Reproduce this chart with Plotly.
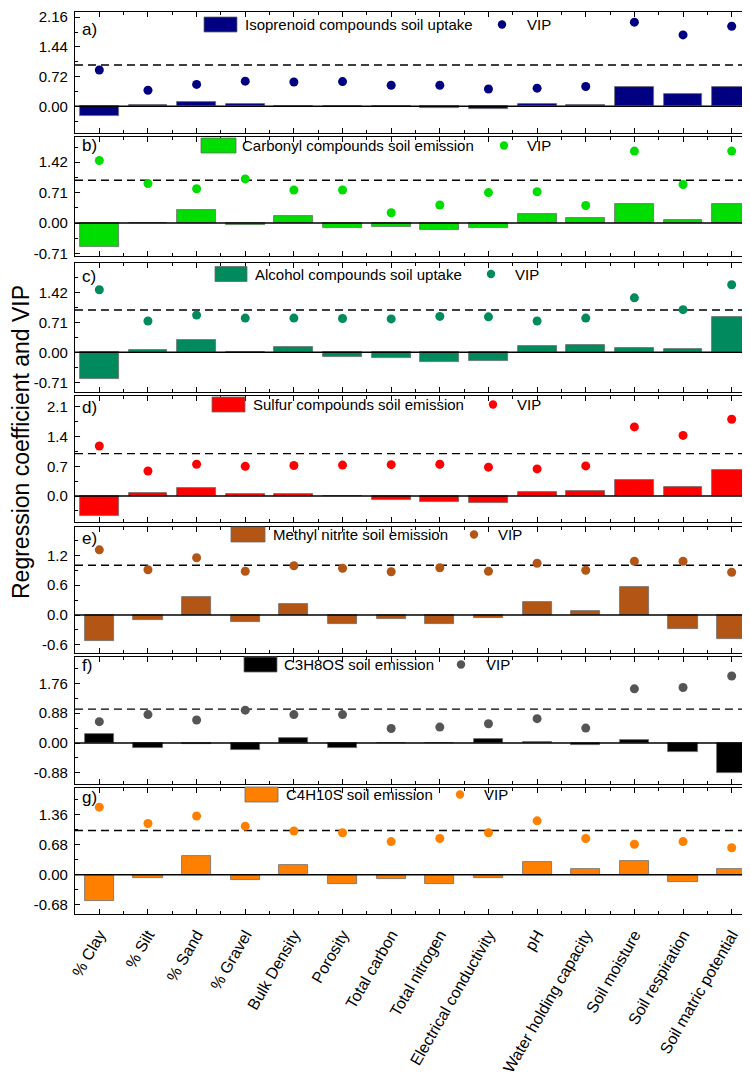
import plotly.graph_objects as go

categories = ["% Clay", "% Silt", "% Sand", "% Gravel", "Bulk Density", "Porosity",
              "Total carbon", "Total nitrogen", "Electrical conductivity", "pH",
              "Water holding capacity", "Soil moisture", "Soil respiration",
              "Soil matric potential"]

panel_labels = ["a)", "b)", "c)", "d)", "e)", "f)", "g)"]
series_names = ["Isoprenoid compounds soil uptake", "Carbonyl compounds soil emission",
                "Alcohol compounds soil uptake", "Sulfur compounds soil emission",
                "Methyl nitrite soil emission", "C3H8OS soil emission", "C4H10S soil emission"]

iso_coef = [-0.24, 0.02, 0.10, 0.05, 0.004, 0.004, 0.004, -0.04, -0.07, 0.055, 0.03, 0.47, 0.30, 0.46]
iso_vip = [0.88, 0.39, 0.53, 0.61, 0.59, 0.60, 0.51, 0.51, 0.42, 0.44, 0.48, 2.04, 1.73, 1.94]
carb_coef = [-0.55, -0.01, 0.31, -0.05, 0.16, -0.11, -0.09, -0.17, -0.11, 0.20, 0.11, 0.45, 0.07, 0.45]
carb_vip = [1.46, 0.92, 0.80, 1.03, 0.77, 0.77, 0.24, 0.42, 0.71, 0.73, 0.41, 1.68, 0.90, 1.68]
alc_coef = [-0.63, 0.06, 0.28, 0.01, 0.12, -0.10, -0.13, -0.22, -0.20, 0.14, 0.17, 0.09, 0.08, 0.84]
alc_vip = [1.48, 0.74, 0.88, 0.81, 0.81, 0.80, 0.79, 0.85, 0.84, 0.74, 0.81, 1.29, 1.01, 1.60]
sul_coef = [-0.48, 0.07, 0.19, 0.05, 0.05, -0.01, -0.09, -0.14, -0.16, 0.09, 0.12, 0.37, 0.21, 0.61]
sul_vip = [1.18, 0.59, 0.75, 0.70, 0.72, 0.73, 0.74, 0.75, 0.68, 0.64, 0.71, 1.63, 1.43, 1.81]
mn_coef = [-0.53, -0.11, 0.37, -0.14, 0.22, -0.19, -0.09, -0.19, -0.07, 0.26, 0.09, 0.57, -0.28, -0.49]
mn_vip = [1.31, 0.91, 1.15, 0.88, 0.99, 0.94, 0.87, 0.95, 0.88, 1.04, 0.90, 1.08, 1.08, 0.86]
c3_coef = [0.27, -0.15, -0.04, -0.22, 0.15, -0.15, 0.004, 0.004, 0.13, 0.04, -0.05, 0.10, -0.27, -0.89]
c3_vip = [0.63, 0.84, 0.68, 0.97, 0.84, 0.84, 0.43, 0.47, 0.57, 0.72, 0.44, 1.60, 1.64, 1.98]
c4_coef = [-0.60, -0.08, 0.42, -0.12, 0.23, -0.20, -0.10, -0.21, -0.08, 0.28, 0.12, 0.32, -0.17, 0.14]
c4_vip = [1.53, 1.16, 1.33, 1.10, 0.99, 0.95, 0.75, 0.82, 0.95, 1.22, 0.82, 0.69, 0.75, 0.61]

coef_series = [iso_coef, carb_coef, alc_coef, sul_coef, mn_coef, c3_coef, c4_coef]
vip_series = [iso_vip, carb_vip, alc_vip, sul_vip, mn_vip, c3_vip, c4_vip]

tick_steps = [0.72, 0.71, 0.71, 0.7, 0.6, 0.88, 0.68]
tick_decimals = [2, 2, 2, 1, 1, 2, 2]
vip_threshold = 1.0

# styling / layout
bar_colors = ["#000080", "#00DD00", "#008A5E", "#FF0000", "#B35514", "#000000", "#FF8000"]
dot_colors = ["#000080", "#00DD00", "#008A5E", "#FF0000", "#B35514", "#555555", "#FF8000"]
bar_widths = [0.8, 0.8, 0.8, 0.8, 0.6, 0.6, 0.6]
y_ranges = [(-0.647, 2.286), (-0.771, 2.009), (-0.94, 2.114), (-0.613, 2.359),
            (-0.764, 1.769), (-1.212, 2.542), (-0.891, 1.965)]
panel_px = [(4, 125), (129, 248), (255, 384), (388, 514), (519, 645), (649, 776), (780, 906)]
# legend: swatch x0, x1, y center, text x, dot x, VIP x  (pixels)
legend_px = [(196, 229, 16.5, 235, 494, 517), (193, 228, 137.5, 232, 496, 517),
             (207, 239, 266, 245, 483, 505), (204, 237, 396.5, 243, 485, 507),
             (223, 257, 526.5, 263, 466, 488), (236, 269, 656.5, 274, 453, 476),
             (237, 270, 786.5, 276, 452, 474)]
label_y_px = [21.5, 137, 268, 399, 530, 657, 789]

W, H = 750, 1074
ML, MR, MT, MB = 67, 2, 4, 168
PW, PH = W - ML - MR, H - MT - MB
FONT = "Arial, Liberation Sans, sans-serif"


def px_x(px):
    return (px - ML) / PW


def px_y(py):
    return 1 - (py - MT) / PH


fig = go.Figure()
xs = list(range(len(categories)))
shapes, annotations = [], []
layout = {}

for i in range(7):
    n = "" if i == 0 else str(i + 1)
    xa, ya = "x" + n, "y" + n
    fig.add_trace(go.Bar(x=xs, y=coef_series[i], width=bar_widths[i],
                         marker=dict(color=bar_colors[i], line=dict(color="#6b6b6b", width=0.8)),
                         xaxis=xa, yaxis=ya, showlegend=False, name=series_names[i]))
    fig.add_trace(go.Scatter(x=xs, y=vip_series[i], mode="markers",
                             marker=dict(color=dot_colors[i], size=9),
                             xaxis=xa, yaxis=ya, showlegend=False, name="VIP"))
    top, bot = panel_px[i]
    step = tick_steps[i]
    lo, hi = y_ranges[i]
    tv = [k * step for k in range(-3, 5) if lo <= k * step <= hi]
    tt = [("%." + str(tick_decimals[i]) + "f") % v for v in tv]
    tt = ["0." + "0" * tick_decimals[i] if abs(v) < 1e-9 else t for v, t in zip(tv, tt)]
    layout["yaxis" + n] = dict(domain=[px_y(bot), px_y(top)], range=[lo, hi], anchor=xa,
                               tickmode="array", tickvals=tv, ticktext=tt, automargin=False,
                               ticks="inside", ticklen=5, tickwidth=1, tickcolor="black",
                               minor=dict(tick0=0, dtick=step / 2, ticks="inside", ticklen=3,
                                          tickcolor="black"),
                               showline=True, linecolor="black", linewidth=1.3, mirror="ticks",
                               showgrid=False, zeroline=False, ticklabelstandoff=3,
                               tickfont=dict(family=FONT, size=15, color="black"))
    layout["xaxis" + n] = dict(domain=[0, 1], range=[-0.5, len(categories) - 0.5], anchor=ya,
                               tickmode="array", tickvals=xs, ticktext=categories,
                               showticklabels=(i == 6), tickangle=-60, automargin=False,
                               ticks="inside", ticklen=5, tickwidth=1, tickcolor="black",
                               minor=dict(tickmode="array",
                                          tickvals=[x + 0.5 for x in xs[:-1]],
                                          ticks="inside", ticklen=3, tickcolor="black"),
                               showline=True, linecolor="black", linewidth=1.3, mirror="ticks",
                               showgrid=False, zeroline=False, ticklabelstandoff=4,
                               tickfont=dict(family=FONT, size=16, color="black"))
    # zero line and VIP threshold
    shapes.append(dict(type="line", xref=xa + " domain", yref=ya, x0=0, x1=1, y0=0, y1=0,
                       line=dict(color="black", width=1.5), layer="above"))
    shapes.append(dict(type="line", xref=xa + " domain", yref=ya, x0=0, x1=1,
                       y0=vip_threshold, y1=vip_threshold,
                       line=dict(color="black", width=1.4, dash="8px,5px"), layer="below"))
    # legend
    sx0, sx1, sy, tx, dx, vx = legend_px[i]
    shapes.append(dict(type="rect", xref="paper", yref="paper",
                       x0=px_x(sx0), x1=px_x(sx1), y0=px_y(sy + 7.5), y1=px_y(sy - 7.5),
                       fillcolor=bar_colors[i], line=dict(color="#6b6b6b", width=0.8)))
    shapes.append(dict(type="circle", xref="paper", yref="paper",
                       x0=px_x(dx - 4.2), x1=px_x(dx + 4.2), y0=px_y(sy + 4.2), y1=px_y(sy - 4.2),
                       fillcolor=dot_colors[i], line=dict(width=0)))
    annotations.append(dict(text=series_names[i], xref="paper", yref="paper",
                            x=px_x(tx), y=px_y(sy), xanchor="left", yanchor="middle",
                            showarrow=False, font=dict(family=FONT, size=15, color="black")))
    annotations.append(dict(text="VIP", xref="paper", yref="paper",
                            x=px_x(vx), y=px_y(sy), xanchor="left", yanchor="middle",
                            showarrow=False, font=dict(family=FONT, size=15, color="black")))
    annotations.append(dict(text=panel_labels[i], xref="paper", yref="paper",
                            x=px_x(72), y=px_y(label_y_px[i]), xanchor="left", yanchor="middle",
                            showarrow=False, font=dict(family=FONT, size=17, color="black")))

annotations.append(dict(text="Regression coefficient and VIP", xref="paper", yref="paper",
                        x=px_x(13), y=px_y(434), xanchor="center", yanchor="middle",
                        textangle=-90, showarrow=False,
                        font=dict(family=FONT, size=23, color="black")))

fig.update_layout(width=W, height=H, margin=dict(l=ML, r=MR, t=MT, b=MB, pad=0, autoexpand=False),
                  paper_bgcolor="white", plot_bgcolor="white", bargap=0,
                  shapes=shapes, annotations=annotations, showlegend=False, **layout)

fig.write_html("out.html")
